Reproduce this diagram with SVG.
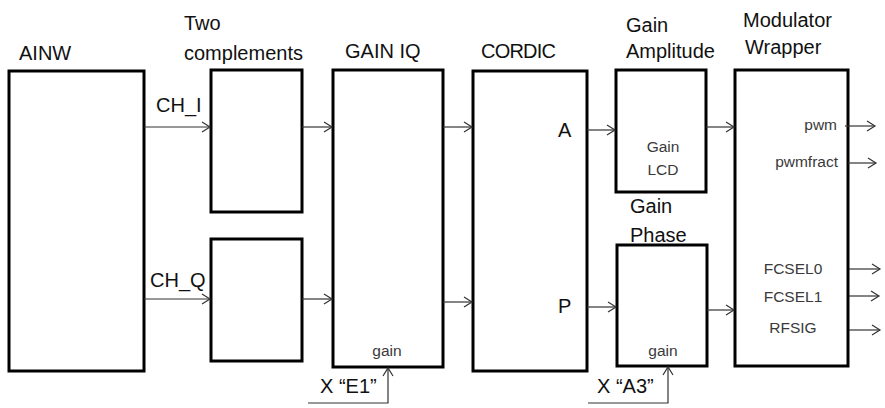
<svg xmlns="http://www.w3.org/2000/svg" width="885" height="408" viewBox="0 0 885 408">
<style>
.box{fill:#fff;stroke:#000;stroke-width:3}
.t{font-family:"Liberation Sans",Arial,sans-serif;font-size:20px;fill:#111}
.s{font-family:"Liberation Sans",Arial,sans-serif;font-size:15.5px;fill:#3a3a3a}
.c{fill:none;stroke:#333;stroke-width:1.2}
</style>
<defs>
<marker id="ah" markerUnits="userSpaceOnUse" markerWidth="12" markerHeight="12" refX="9" refY="6" orient="auto">
<path d="M1,1 L9,6 L1,11" fill="none" stroke="#333" stroke-width="1.2"/>
</marker>
</defs>
<rect width="885" height="408" fill="#fff"/>
<g id="ainw">
<rect class="box" x="9" y="71" width="135" height="300"/>
<text class="t" x="19" y="60">AINW</text>
</g>
<g id="two-complements">
<text class="t" x="184" y="30">Two</text>
<text class="t" x="184" y="60">complements</text>
<rect class="box" x="211" y="70" width="91" height="142"/>
<rect class="box" x="211" y="239" width="91" height="122"/>
</g>
<g id="gain-iq">
<rect class="box" x="333" y="70" width="110" height="297"/>
<text class="t" x="345" y="58">GAIN IQ</text>
<text class="s" x="387" y="356" text-anchor="middle">gain</text>
</g>
<g id="cordic">
<rect class="box" x="473" y="71" width="114" height="300"/>
<text class="t" x="481" y="58" textLength="75">CORDIC</text>
<text class="t" x="558" y="137">A</text>
<text class="t" x="558" y="313">P</text>
</g>
<g id="gain-amplitude">
<text class="t" x="626" y="32">Gain</text>
<text class="t" x="626" y="58">Amplitude</text>
<rect class="box" x="616" y="70" width="90" height="122"/>
<text class="s" x="663" y="152" text-anchor="middle">Gain</text>
<text class="s" x="663" y="175" text-anchor="middle">LCD</text>
</g>
<g id="gain-phase">
<text class="t" x="630" y="213">Gain</text>
<text class="t" x="630" y="242">Phase</text>
<rect class="box" x="617" y="245" width="90" height="121"/>
<text class="s" x="663" y="356" text-anchor="middle">gain</text>
</g>
<g id="modulator-wrapper">
<text class="t" x="743" y="27">Modulator</text>
<text class="t" x="745" y="54">Wrapper</text>
<rect class="box" x="735" y="70" width="113" height="296"/>
<text class="s" x="837" y="130" text-anchor="end">pwm</text>
<text class="s" x="838" y="167" text-anchor="end">pwmfract</text>
<text class="s" x="793" y="274" text-anchor="middle">FCSEL0</text>
<text class="s" x="793" y="302" text-anchor="middle">FCSEL1</text>
<text class="s" x="793" y="333" text-anchor="middle">RFSIG</text>
</g>
<g id="connectors">
<path class="c" marker-end="url(#ah)" d="M144,127 H210"/>
<text class="t" x="156" y="112">CH_I</text>
<path class="c" marker-end="url(#ah)" d="M144,299 H210"/>
<text class="t" x="150" y="287">CH_Q</text>
<path class="c" marker-end="url(#ah)" d="M302,127 H332"/>
<path class="c" marker-end="url(#ah)" d="M302,299 H332"/>
<path class="c" marker-end="url(#ah)" d="M443,127 H472"/>
<path class="c" marker-end="url(#ah)" d="M443,302 H472"/>
<path class="c" marker-end="url(#ah)" d="M587,130 H615"/>
<path class="c" marker-end="url(#ah)" d="M587,307 H616"/>
<path class="c" marker-end="url(#ah)" d="M706,127 H734"/>
<path class="c" marker-end="url(#ah)" d="M707,310 H734"/>
<path class="c" marker-end="url(#ah)" d="M845,126 H875"/>
<path class="c" marker-end="url(#ah)" d="M848,163 H876"/>
<path class="c" marker-end="url(#ah)" d="M849,269 H880"/>
<path class="c" marker-end="url(#ah)" d="M849,296 H879"/>
<path class="c" marker-end="url(#ah)" d="M849,330 H880"/>
<path class="c" marker-end="url(#ah)" d="M308,403 H388 V368"/>
<text class="t" x="320" y="393">X “E1”</text>
<path class="c" marker-end="url(#ah)" d="M588,403 H668 V367"/>
<text class="t" x="597" y="393">X “A3”</text>
</g>
</svg>
